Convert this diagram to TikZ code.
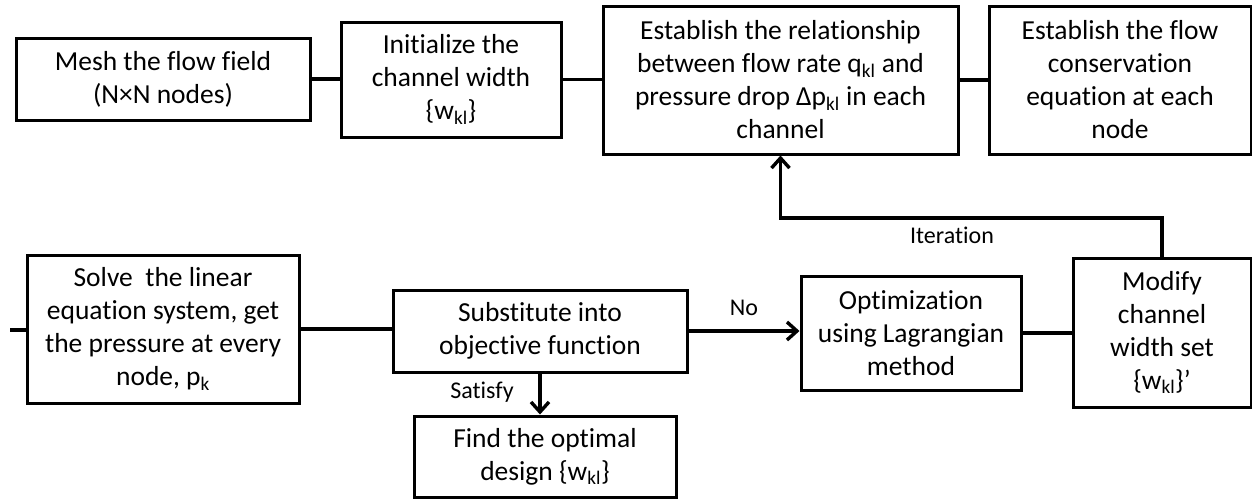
\documentclass[tikz,border=0pt]{standalone}
\usepackage{fontspec}
\setmainfont{Carlito}[Ligatures=NoCommon]
\usetikzlibrary{arrows.meta}
\tikzset{
  box/.style={draw, line width=3pt, rectangle, align=center, inner sep=0pt,
    font=\fontsize{27.5pt}{33pt}\selectfont},
  conn/.style={line width=3.4pt},
  arr/.style={conn, -{Straight Barb[length=10pt,width=18pt,line width=3.4pt]}},
  lbl/.style={font=\fontsize{24pt}{28pt}\selectfont, inner sep=0pt}
}
\begin{document}
\begin{tikzpicture}[x=1pt,y=-1pt]
\useasboundingbox (0,0) rectangle (1252,499);
% top row
\node[box, minimum width=294pt, minimum height=82pt] (A) at (163,79) {Mesh the flow field\\(N×N nodes)};
\node[box, minimum width=220pt, minimum height=115pt] (B) at (451,79.5) {Initialize the\\channel width\\\{w\textsubscript{kl}\}};
\node[box, minimum width=355pt, minimum height=148pt] (C) at (780.5,80) {Establish the relationship\\between flow rate q\textsubscript{kl} and\\pressure drop Δp\textsubscript{kl} in each\\channel};
\node[box, minimum width=262pt, minimum height=148pt] (D) at (1120,80) {Establish the flow\\conservation\\equation at each\\node};
% bottom row
\node[box, minimum width=272pt, minimum height=148pt] (E) at (163,329) {Solve~ the linear\\equation system, get\\the pressure at every\\node, p\textsubscript{k}};
\node[box, minimum width=294pt, minimum height=82pt] (F) at (540,331) {Substitute into\\objective function};
\node[box, minimum width=220pt, minimum height=114pt] (G) at (911,333) {Optimization\\using Lagrangian\\method};
\node[box, minimum width=178pt, minimum height=149pt] (H) at (1162,332.5) {Modify\\channel\\width set\\\{w\textsubscript{kl}\}’};
\node[box, minimum width=262pt, minimum height=81pt] (I) at (545,456.5) {Find the optimal\\design \{w\textsubscript{kl}\}};
% connectors top
\draw[conn] (A.east) -- (A.east -| B.west);
\draw[conn] (B.east) -- (B.east -| C.west);
\draw[conn] (C.east) -- (C.east -| D.west);
% connectors bottom
\coordinate (s) at (10,330);
\draw[conn] (s) -- (s -| E.west);
\draw[conn] (E.east) -- (E.east -| F.west);
\draw[arr] (F.east) -- (F.east -| G.west);
\draw[conn] (G.east) -- (G.east -| H.west);
\draw[arr] (F.south) -- (F.south |- I.north);
\coordinate (it) at (1163,218);
\draw[arr] (H.north) -- (H.north |- it) -| (C.south);
% labels
\node[lbl] (no) at (744,308) {No};
\node[lbl] (sat) at (482,392) {Satisfy};
\node[lbl] (iter) at (952,235) {Iteration};
\end{tikzpicture}
\end{document}
